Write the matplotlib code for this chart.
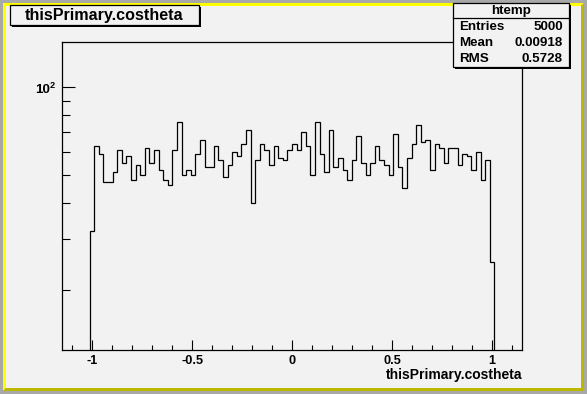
import matplotlib
matplotlib.use("Agg")
import matplotlib.pyplot as plt
import numpy as np
from matplotlib.patches import Rectangle, Polygon
from matplotlib.ticker import FixedLocator, MultipleLocator, NullFormatter

# ── data ─────────────────────────────────────────────────────────────────────
hist_range = (-1.15, 1.15)
n_bins = 100
first_bin = 6          # index of the first filled bin
counts = [
    32, 63, 59, 47, 47, 51, 61, 55, 58, 48,
    54, 50, 62, 55, 61, 52, 48, 46, 61, 76,
    50, 52, 50, 59, 66, 53, 53, 63, 56, 49,
    54, 60, 58, 64, 71, 40, 56, 64, 61, 54,
    63, 57, 56, 61, 64, 61, 70, 63, 50, 76,
    59, 51, 71, 53, 57, 52, 48, 56, 68, 55,
    50, 55, 63, 56, 54, 50, 69, 53, 45, 57,
    64, 74, 65, 66, 52, 64, 62, 55, 62, 62,
    54, 59, 58, 52, 60, 48, 56, 25,
]
x_ticks = [-1, -0.5, 0, 0.5, 1]
x_ticklabels = ["-1", "-0.5", "0", "0.5", "1"]
y_major = 100
stats = [("Entries", "5000"), ("Mean", "0.00918"), ("RMS", "0.5728")]
hist_name = "htemp"
var_name = "thisPrimary.costheta"

# ── style ────────────────────────────────────────────────────────────────────
W, H = 587, 394
PAD_BG = "#f2f2f2"
FONT = "Liberation Sans"
plt.rcParams["font.family"] = [FONT, "DejaVu Sans"]
plt.rcParams["font.weight"] = "bold"
plt.rcParams["axes.unicode_minus"] = False


def fx(x):
    return x / W


def fy(y):
    return 1 - y / H


def box(fig, x0, y0, x1, y1, shadow=2):
    # ROOT-like pave: black drop shadow then filled frame
    fig.add_artist(Rectangle((fx(x0 + shadow), fy(y1 + shadow)),
                             fx(x1 - x0), (y1 - y0) / H,
                             transform=fig.transFigure, facecolor="black",
                             edgecolor="none", zorder=5))
    fig.add_artist(Rectangle((fx(x0), fy(y1)), fx(x1 - x0), (y1 - y0) / H,
                             transform=fig.transFigure, facecolor=PAD_BG,
                             edgecolor="black", lw=0.9, zorder=6))


fig = plt.figure(figsize=(W / 100, H / 100), dpi=100)
fig.patch.set_facecolor("#a8a8a8")

# canvas border: bright top/left, dark bottom/right (kept behind the axes)
b0, b1 = 3, 6
fig.add_artist(Polygon([(fx(b0), fy(H - b0)), (fx(b0), fy(b0)), (fx(W - b0), fy(b0)),
                        (fx(W - b1), fy(b1)), (fx(b1), fy(b1)), (fx(b1), fy(H - b1))],
                       transform=fig.transFigure, facecolor="#ffff00",
                       edgecolor="none", zorder=-10))
fig.add_artist(Polygon([(fx(W - b0), fy(b0)), (fx(W - b0), fy(H - b0)), (fx(b0), fy(H - b0)),
                        (fx(b1), fy(H - b1)), (fx(W - b1), fy(H - b1)), (fx(W - b1), fy(b1))],
                       transform=fig.transFigure, facecolor="#bcb800",
                       edgecolor="none", zorder=-10))
fig.add_artist(Rectangle((fx(b1), fy(H - b1)), fx(W - 2 * b1), (H - 2 * b1) / H,
                         transform=fig.transFigure, facecolor=PAD_BG,
                         edgecolor="none", zorder=-9))

# ── histogram frame ──────────────────────────────────────────────────────────
left, right, top, bottom = 62, 522, 41.5, 350
ax = fig.add_axes([fx(left), fy(bottom), fx(right - left), (bottom - top) / H])
ax.set_facecolor(PAD_BG)
ax.set_zorder(0)

edges = np.linspace(hist_range[0], hist_range[1], n_bins + 1)
seg = edges[first_bin:first_bin + len(counts) + 1]
ax.stairs(counts, seg, baseline=1e-3, color="black", lw=0.9)

ax.set_yscale("log")
ax.set_xlim(*hist_range)
ax.set_ylim(12.42, 143.9)

ax.xaxis.set_major_locator(FixedLocator(x_ticks))
ax.set_xticklabels(x_ticklabels)
ax.xaxis.set_minor_locator(MultipleLocator(0.1))
ax.yaxis.set_major_locator(FixedLocator([y_major]))
ax.set_yticklabels([""])
ax.yaxis.set_minor_locator(FixedLocator(np.arange(20, 100, 10)))
ax.yaxis.set_minor_formatter(NullFormatter())

# ROOT style "10" with a raised exponent, placed next to the major tick
blend = ax.get_yaxis_transform()
ax.annotate("10", xy=(0, y_major), xycoords=blend, xytext=(-8.6, -1.9),
            textcoords="offset points", ha="right", va="center",
            fontsize=9.6, fontweight="bold", annotation_clip=False)
ax.annotate("2", xy=(0, y_major), xycoords=blend, xytext=(-8.7, 1.6),
            textcoords="offset points", ha="left", va="center",
            fontsize=6.6, fontweight="bold", annotation_clip=False)

for s in ax.spines.values():
    s.set_linewidth(0.9)

ax.tick_params(axis="both", which="both", direction="in", top=False, right=False,
               width=0.8, labelsize=9.2)
ax.tick_params(axis="x", which="major", length=7.2, pad=3.5)
ax.tick_params(axis="x", which="minor", length=3.6)
ax.tick_params(axis="y", which="major", length=9.4, pad=7)
ax.tick_params(axis="y", which="minor", length=5.8)

fig.text(fx(right), fy(375), var_name, ha="right", va="center",
         fontsize=10, fontweight="bold")

# ── title pave ───────────────────────────────────────────────────────────────
box(fig, 10, 5, 199, 25)
fig.text(fx(104), fy(15.5), var_name, ha="center", va="center",
         fontsize=11.6, fontweight="bold", zorder=7)

# ── stats pave ───────────────────────────────────────────────────────────────
box(fig, 453, 3, 569, 67)
fig.add_artist(plt.Line2D([fx(453), fx(569)], [fy(18), fy(18)],
                          transform=fig.transFigure, color="black", lw=0.9,
                          zorder=7))
fig.text(fx(511), fy(11), hist_name, ha="center", va="center",
         fontsize=9.6, fontweight="bold", zorder=7)
for i, (name, val) in enumerate(stats):
    yy = 26.5 + 16 * i
    fig.text(fx(459), fy(yy), name, ha="left", va="center",
             fontsize=9.6, fontweight="bold", zorder=7)
    fig.text(fx(563), fy(yy), val, ha="right", va="center",
             fontsize=9.6, fontweight="bold", zorder=7)

fig.savefig("out.png", dpi=100, facecolor=fig.get_facecolor())
